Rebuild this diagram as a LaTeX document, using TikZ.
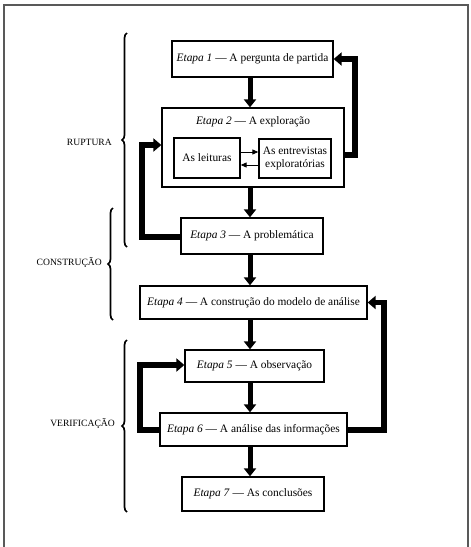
\documentclass[tikz,border=0pt]{standalone}
\usepackage{fontspec}
\setmainfont{Liberation Serif}
\usetikzlibrary{arrows.meta,decorations.pathreplacing}
\begin{document}
\begin{tikzpicture}[x=1pt,y=-1pt,
  box/.style={draw=black,line width=1.3pt,fill=white,inner sep=0pt,align=center,font=\fontsize{11.4}{13}\selectfont},
  down/.style={line width=5pt,-{Triangle[width=12pt,length=8pt]}},
  fb/.style={line width=5.5pt,line join=miter,-{Triangle[width=13pt,length=8pt]}},
  thin/.style={line width=0.9pt,-{Triangle[width=5pt,length=6pt]}},
  lab/.style={anchor=east,inner sep=0pt,font=\fontsize{9.6}{11}\selectfont},
  brc/.style={decorate,decoration={brace,amplitude=5pt},line width=1.7pt}]
\useasboundingbox (0,0) rectangle (471,547);
\draw[gray!70!black,line width=1.4pt] (4,560) -- (4,5) -- (468,5) -- (468,560);
% boxes
\node[box,minimum width=161pt,minimum height=36pt] (b1) at (252.5,59) {\textit{Etapa 1} — A pergunta de partida};
\node[box,minimum width=182pt,minimum height=79pt] (b2) at (253,147.5) {};
\node[inner sep=0pt,font=\fontsize{11.4}{13}\selectfont] (t2) at (253,122) {\textit{Etapa 2} — A exploração};
\node[box,minimum width=66pt,minimum height=40pt] (l) at (207,158) {As leituras};
\node[box,minimum width=72pt,minimum height=39pt] (e) at (295,158.5) {As entrevistas\\exploratórias};
\node[box,minimum width=142pt,minimum height=36pt] (b3) at (252,236) {\textit{Etapa 3} — A problemática};
\node[box,minimum width=227pt,minimum height=33pt] (b4) at (253.5,302.5) {\textit{Etapa 4} — A construção do modelo de análise};
\node[box,minimum width=139pt,minimum height=32pt] (b5) at (254.5,366) {\textit{Etapa 5} — A observação};
\node[box,minimum width=187pt,minimum height=33pt] (b6) at (253.5,429.5) {\textit{Etapa 6} — A análise das informações};
\node[box,minimum width=142pt,minimum height=34pt] (b7) at (253,494) {\textit{Etapa 7} — As conclusões};
% vertical arrows
\draw[down] (b1.south -| 250,0) -- (b2.north -| 250,0);
\draw[down] (b2.south -| 250,0) -- (b3.north -| 250,0);
\draw[down] (b3.south -| 250,0) -- (b4.north -| 250,0);
\draw[down] (b4.south -| 250,0) -- (b5.north -| 250,0);
\draw[down] (b5.south -| 250,0) -- (b6.north -| 250,0);
\draw[down] (b6.south -| 250,0) -- (b7.north -| 250,0);
% inner arrows
\draw[thin] (l.east |- 0,152) -- (e.west |- 0,152);
\draw[thin] (e.west |- 0,165) -- (l.east |- 0,165);
% feedback
\coordinate (r1) at (355,155);
\coordinate (r1t) at (355,59);
\draw[fb] (b2.east |- r1) -- (r1) -- (r1t) -- (b1.east);
\coordinate (l1) at (142,237);
\coordinate (l1t) at (142,145);
\draw[fb] (b3.west |- l1) -- (l1) -- (l1t) -- (b2.west |- l1t);
\coordinate (l2) at (140,430);
\coordinate (l2t) at (140,365);
\draw[fb] (b6.west |- l2) -- (l2) -- (l2t) -- (b5.west |- l2t);
\coordinate (r2) at (384,430);
\coordinate (r2t) at (384,302.5);
\draw[fb] (b6.east |- r2) -- (r2) -- (r2t) -- (b4.east);
% braces
\coordinate (ra) at (127,247); \coordinate (rb) at (127,33);
\draw[brc] (ra) -- (rb);
\coordinate (ca) at (113,320); \coordinate (cb) at (113,208);
\draw[brc] (ca) -- (cb);
\coordinate (va) at (127,512); \coordinate (vb) at (127,340);
\draw[brc] (va) -- (vb);
\node[lab] (lr) at (112,142) {RUPTURA};
\node[lab] (lc) at (102,262) {CONSTRUÇÃO};
\node[lab] (lv) at (115,423) {VERIFICAÇÃO};
\end{tikzpicture}
\end{document}
